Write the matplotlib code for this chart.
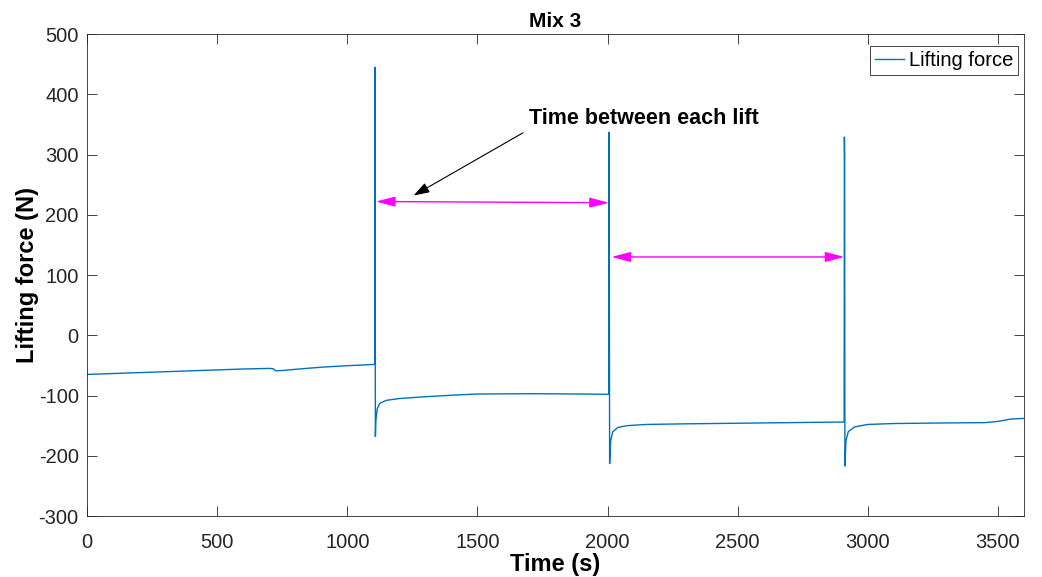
import matplotlib
matplotlib.use("Agg")
import matplotlib.pyplot as plt

# ── data ──────────────────────────────────────────────────────────────────────
TIME = [0, 100, 200, 300, 400, 500, 600, 700, 715, 725, 750, 800, 900, 1000, 1100, 1106,
        1106.5, 1107, 1108, 1110, 1115, 1125, 1150, 1200, 1300, 1400, 1500, 1700, 1900, 2005,
        2006, 2008, 2012, 2020, 2040, 2075, 2150, 2300, 2500, 2700, 2909,
        2910, 2911, 2912, 2916, 2925, 2950, 3000, 3100, 3300, 3450, 3500, 3550, 3600]
FORCE = [-65, -63.5, -62, -60.5, -59, -57.5, -56, -55, -55.5, -59, -58.5, -56.5, -53, -50.5, -48.5, -48,
         445, 100, -168, -140, -122, -113, -108, -105, -102, -99.5, -97.5, -97, -97.5, -98,
         337, -213, -175, -160, -153, -150, -148, -147, -146, -145, -144,
         329, 300, -217, -175, -160, -152, -148, -146.5, -145.5, -145, -143, -139, -138]

# lift-to-lift interval arrows: (t_start, t_end, y_start, y_end)
INTERVALS = [(1110, 2005, 222, 220), (2015, 2910, 130, 130)]

XTICKS = [0, 500, 1000, 1500, 2000, 2500, 3000, 3500]
YTICKS = [-300, -200, -100, 0, 100, 200, 300, 400, 500]

plt.rcParams["font.family"] = ["Liberation Sans", "DejaVu Sans"]
plt.rcParams["axes.unicode_minus"] = False

fig = plt.figure(figsize=(10.42, 5.77), dpi=100, facecolor="white")
ax = fig.add_axes([0.0835, 0.1057, 0.8992, 0.8353])

ax.plot(TIME, FORCE, color="#0072BD", lw=1.0, label="Lifting force")

for x0, x1, y0, y1 in INTERVALS:
    ax.annotate("", xy=(x0, y0), xytext=(x1, y1),
                arrowprops=dict(arrowstyle="<|-|>,head_length=0.65,head_width=0.17",
                                color="#FF00FF", lw=1.0,
                                mutation_scale=18, shrinkA=0, shrinkB=0))

# label + pointer arrow
ax.text(1698, 360, "Time between each lift", fontsize=15.5, fontweight="bold",
        ha="left", va="center")
ax.annotate("", xy=(1255, 232), xytext=(1675, 336),
            arrowprops=dict(arrowstyle="-|>,head_length=0.6,head_width=0.2",
                            color="black", lw=0.8,
                            mutation_scale=16, shrinkA=0, shrinkB=0))

ax.set_xlim(0, 3600)
ax.set_ylim(-300, 500)
ax.set_xticks(XTICKS)
ax.set_yticks(YTICKS)
ax.tick_params(direction="in", length=7, width=0.6, labelsize=14.5,
               top=True, right=True, colors="#262626")
ax.tick_params(axis="x", pad=12)
ax.tick_params(axis="y", pad=6)
for s in ax.spines.values():
    s.set_linewidth(0.6)
    s.set_color("#262626")

ax.set_xlabel("Time (s)", fontsize=17, fontweight="bold", labelpad=1)
ax.set_ylabel("Lifting force (N)", fontsize=17, fontweight="bold", labelpad=0)
ax.set_title("Mix 3", fontsize=15, fontweight="bold", pad=5)

leg = ax.legend(loc="upper right", bbox_to_anchor=(0.9936, 0.975), fontsize=14.5,
                fancybox=False, framealpha=1, edgecolor="#262626",
                handlelength=1.4, handletextpad=0.25, borderpad=0.25,
                borderaxespad=0)
leg.get_frame().set_linewidth(0.6)

fig.savefig("out.png", dpi=100, facecolor="white")
